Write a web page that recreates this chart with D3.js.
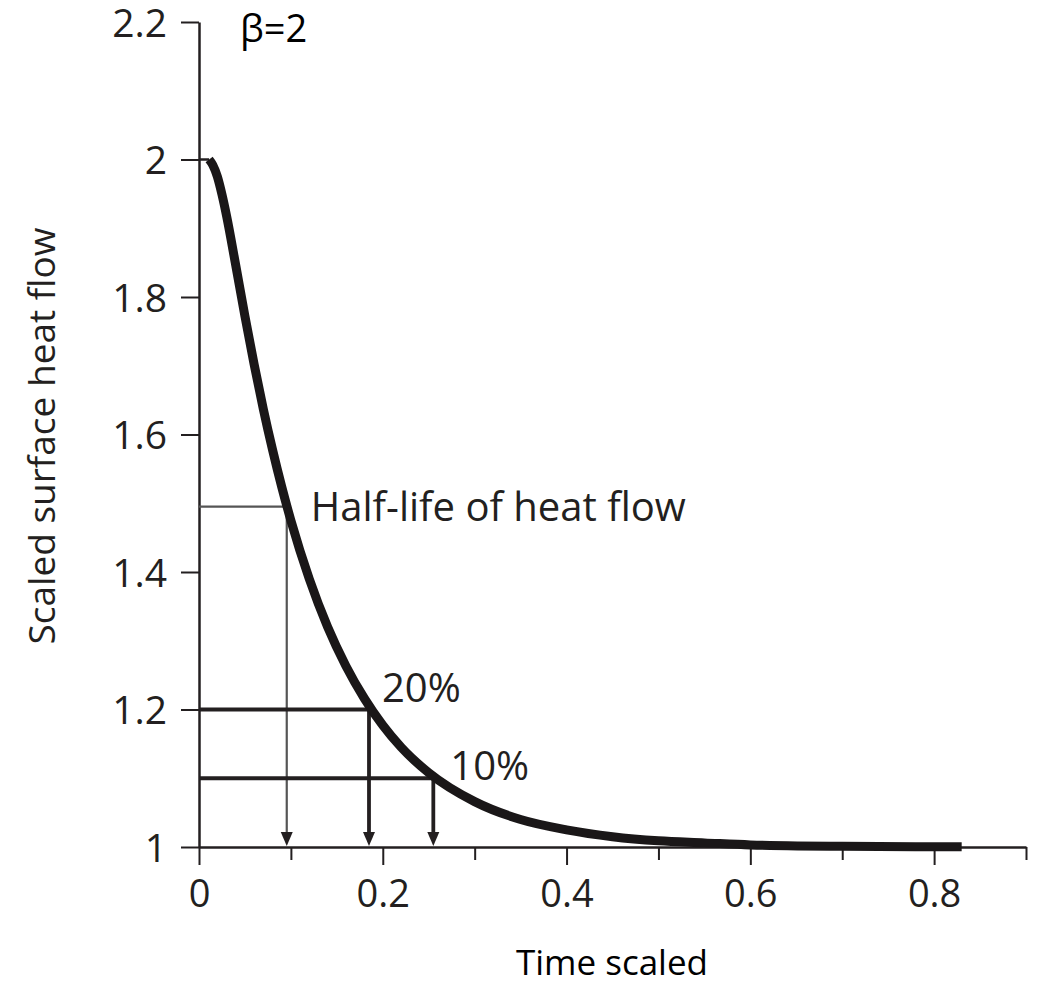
<!DOCTYPE html>
<html>
<head>
<meta charset="utf-8">
<script src="https://cdn.jsdelivr.net/npm/d3@7"></script>
<style>
  html, body { margin: 0; padding: 0; background: #fff; }
  svg { display: block; }
</style>
</head>
<body>
<svg id="chart" width="1041" height="985"></svg>
<script>
// ---- data ----
const timeValues = [0.011, 0.015, 0.02, 0.025, 0.03, 0.04, 0.05, 0.06, 0.07, 0.08, 0.09, 0.10,
                    0.12, 0.14, 0.16, 0.18, 0.20, 0.22, 0.25, 0.30, 0.35, 0.40, 0.45, 0.50,
                    0.55, 0.60, 0.70, 0.83];
const heatFlowValues = [2.0, 1.992, 1.975, 1.949, 1.918, 1.846, 1.772, 1.702, 1.637, 1.578, 1.524, 1.475,
                        1.390, 1.320, 1.263, 1.216, 1.177, 1.145, 1.108, 1.066, 1.040, 1.025, 1.015, 1.009,
                        1.006, 1.003, 1.001, 1.0004];
const guideLabels = ["Half-life of heat flow", "20%", "10%"];
const guideLevels = [1.495, 1.2, 1.1];
const guideTimes = [0.0955, 0.185, 0.255];
const xTickValues = [0, 0.1, 0.2, 0.3, 0.4, 0.5, 0.6, 0.7, 0.8, 0.9];
const xTickLabels = ["0", "", "0.2", "", "0.4", "", "0.6", "", "0.8", ""];
const yTickValues = [1, 1.2, 1.4, 1.6, 1.8, 2, 2.2];
const yTickLabels = ["1", "1.2", "1.4", "1.6", "1.8", "2", "2.2"];
const xTitle = "Time scaled";
const yTitle = "Scaled surface heat flow";
const panelTitle = "β=2";

// ---- drawing ----
const svg = d3.select("#chart");
const ink = "#231f20";
const x = d3.scaleLinear().domain([0, 0.9]).range([199, 1026]);
const y = d3.scaleLinear().domain([1, 2.2]).range([847, 22]);

// y axis
const yAxis = d3.axisLeft(y).tickValues(yTickValues)
  .tickFormat((d, i) => yTickLabels[i]).tickSize(18).tickSizeOuter(0).tickPadding(14);
const gy = svg.append("g").attr("transform", `translate(${x(0)},0)`).call(yAxis);
gy.select(".domain").attr("stroke", ink).attr("stroke-width", 2.5);
gy.selectAll(".tick line").attr("stroke", ink).attr("stroke-width", 2);
gy.selectAll(".tick text").attr("fill", ink).attr("font-family", "'Open Sans', sans-serif")
  .attr("font-size", 39).attr("dy", "0.36em");

// x axis
const xAxis = d3.axisBottom(x).tickValues(xTickValues)
  .tickFormat((d, i) => xTickLabels[i]).tickSize(18).tickSizeOuter(0);
const gx = svg.append("g").attr("transform", `translate(0,${y(1)})`).call(xAxis);
gx.select(".domain").attr("stroke", ink).attr("stroke-width", 2.5);
gx.selectAll(".tick line").attr("stroke", ink).attr("stroke-width", 2)
  .attr("y2", (d, i) => (i % 2 === 1 ? 13 : 18));
gx.selectAll(".tick text").attr("fill", ink).attr("font-family", "'Open Sans', sans-serif")
  .attr("font-size", 38).attr("y", 60).attr("dy", 0);

// thin start at the initial value
svg.append("line")
  .attr("x1", x(0)).attr("x2", x(timeValues[0]))
  .attr("y1", y(heatFlowValues[0])).attr("y2", y(heatFlowValues[0]))
  .attr("stroke", ink).attr("stroke-width", 2.5);

// guide lines with arrows
const guideStyles = [
  { color: "#555", width: 2.2, dx: 24, dy: 14 },
  { color: ink, width: 3.8, dx: 13, dy: -8 },
  { color: ink, width: 3.8, dx: 17, dy: 2 }
];
const guides = svg.append("g");
guideLevels.forEach((lvl, i) => {
  const st = guideStyles[i];
  const gxp = x(guideTimes[i]), gyp = y(lvl);
  guides.append("line").attr("x1", x(0)).attr("x2", gxp).attr("y1", gyp).attr("y2", gyp)
    .attr("stroke", st.color).attr("stroke-width", st.width);
  const tipY = y(1) - 1;
  guides.append("line").attr("x1", gxp).attr("x2", gxp).attr("y1", gyp).attr("y2", tipY - 10)
    .attr("stroke", st.color).attr("stroke-width", st.width);
  guides.append("path")
    .attr("d", `M${gxp - 6},${tipY - 14} L${gxp + 6},${tipY - 14} L${gxp},${tipY} Z`)
    .attr("fill", ink);
  svg.append("text").attr("x", gxp + st.dx).attr("y", gyp + st.dy)
    .attr("font-family", "'Open Sans', sans-serif").attr("font-size", 40)
    .attr("fill", ink).text(guideLabels[i]);
});

// curve
const pts = timeValues.map((t, i) => [t, heatFlowValues[i]]);
const line = d3.line().x(d => x(d[0])).y(d => y(d[1])).curve(d3.curveMonotoneX);
svg.append("path").attr("d", line(pts)).attr("fill", "none")
  .attr("stroke", "#1a1718").attr("stroke-width", 9).attr("stroke-linejoin", "round");

// titles
svg.append("text").attr("transform", `translate(55,436) rotate(-90)`)
  .attr("text-anchor", "middle").attr("font-family", "'Open Sans', sans-serif")
  .attr("font-size", 37).attr("fill", ink).text(yTitle);
svg.append("text").attr("x", 612).attr("y", 975).attr("text-anchor", "middle")
  .attr("font-family", "'Open Sans', sans-serif").attr("font-size", 35)
  .attr("fill", "#000").text(xTitle);
svg.append("text").attr("x", 240).attr("y", 42)
  .attr("font-family", "'Open Sans', sans-serif").attr("font-size", 38)
  .attr("fill", "#000").text(panelTitle);
</script>
</body>
</html>
